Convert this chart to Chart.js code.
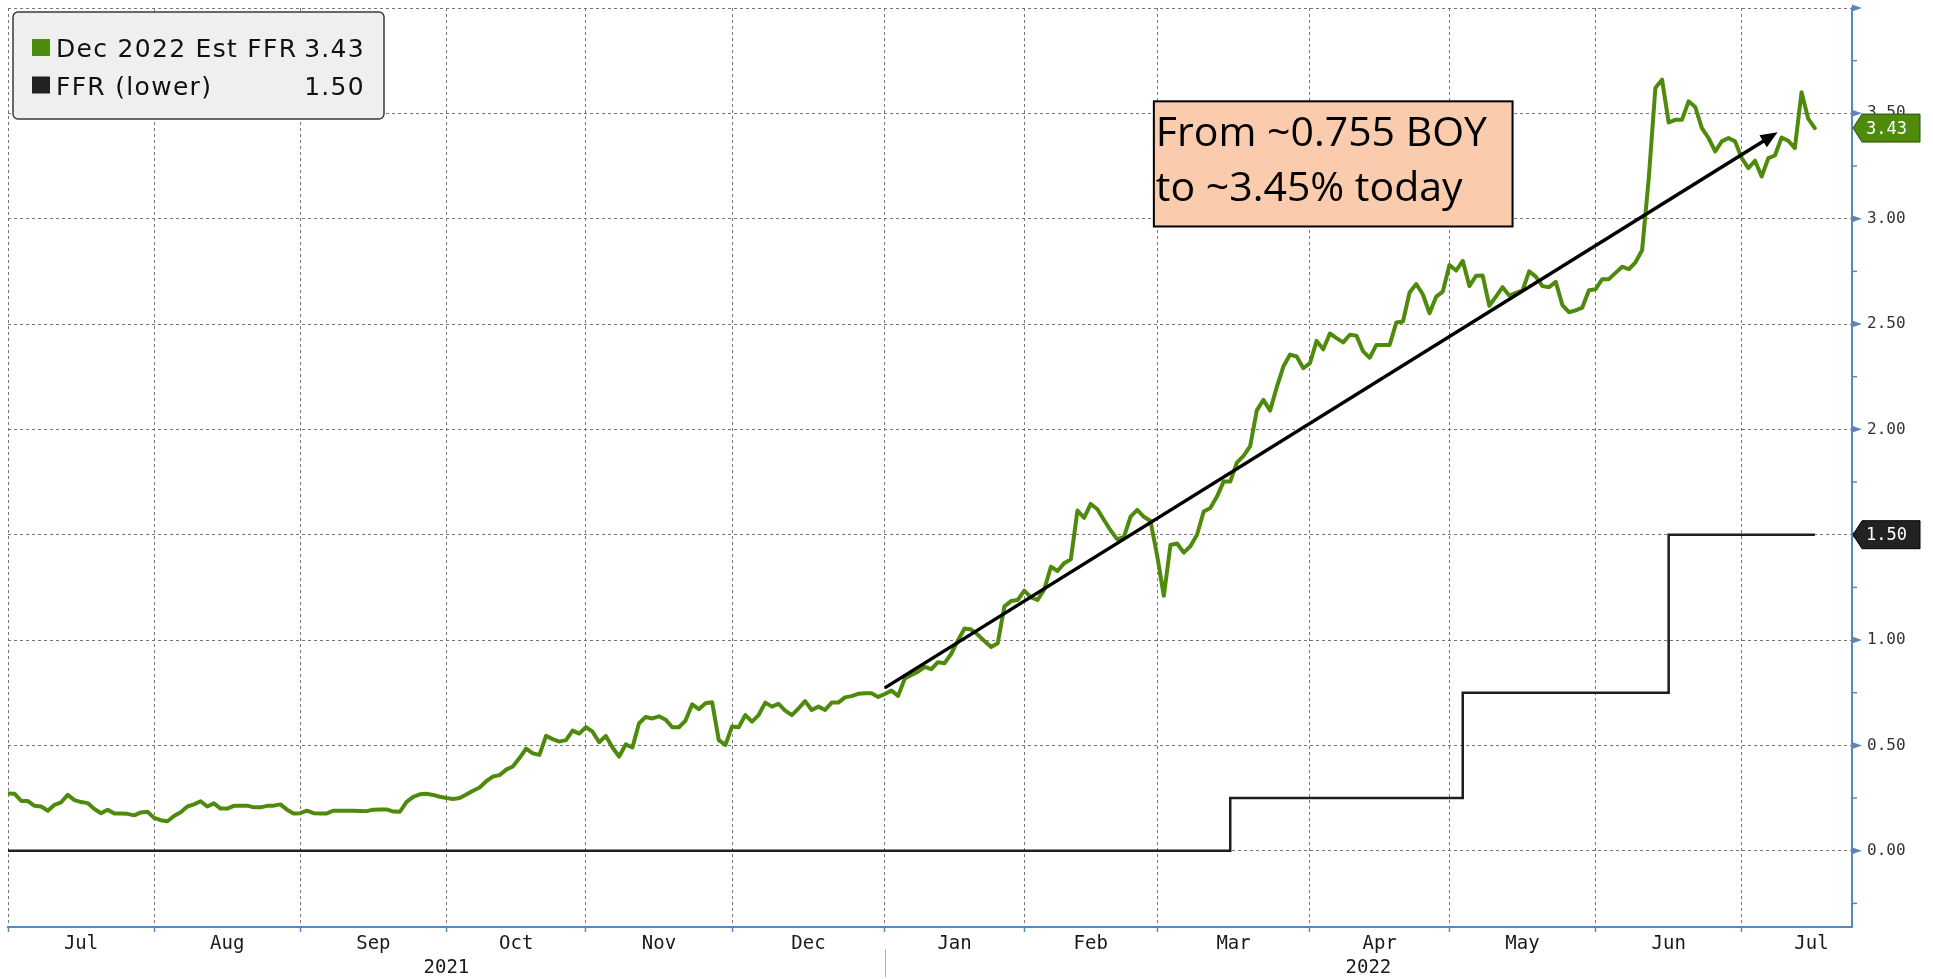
<!DOCTYPE html>
<html lang="en">
<head>
<meta charset="UTF-8">
<title>Dec 2022 Est FFR vs FFR</title>
<script src="https://cdn.jsdelivr.net/npm/chart.js"></script>
<style>
  html, body { margin: 0; padding: 0; background: #fff; }
  #wrap { position: relative; width: 1933px; height: 979px; }
</style>
</head>
<body>
<div id="wrap"><canvas id="chart"></canvas></div>
<script>
// x = trading-day index, 0 = Thu 1 Jul 2021 (weekdays only)
const estFFR = [
  // Jul 2021
  0.272, 0.270, 0.236, 0.236, 0.213, 0.210, 0.190, 0.218, 0.230, 0.265, 0.240, 0.231, 0.226, 0.198, 0.178, 0.195, 0.177, 0.177, 0.175, 0.168, 0.182, 0.185,
  // Aug
  0.156, 0.145, 0.140, 0.165, 0.183, 0.210, 0.220, 0.235, 0.210, 0.225, 0.200, 0.200, 0.213, 0.214, 0.214, 0.206, 0.206, 0.213, 0.214, 0.220, 0.195, 0.177,
  // Sep
  0.178, 0.190, 0.178, 0.177, 0.177, 0.190, 0.190, 0.190, 0.190, 0.189, 0.188, 0.195, 0.196, 0.196, 0.186, 0.185, 0.232, 0.256, 0.268, 0.270, 0.265, 0.256,
  // Oct
  0.250, 0.246, 0.250, 0.267, 0.285, 0.300, 0.330, 0.352, 0.359, 0.385, 0.400, 0.440, 0.485, 0.462, 0.455, 0.545, 0.530, 0.518, 0.525, 0.570, 0.556,
  // Nov
  0.587, 0.565, 0.515, 0.545, 0.490, 0.447, 0.505, 0.490, 0.605, 0.635, 0.628, 0.638, 0.622, 0.586, 0.586, 0.618, 0.695, 0.672, 0.700, 0.705, 0.525, 0.502,
  // Dec
  0.590, 0.586, 0.644, 0.613, 0.644, 0.703, 0.684, 0.697, 0.665, 0.644, 0.675, 0.710, 0.668, 0.684, 0.668, 0.703, 0.703, 0.728, 0.734, 0.745, 0.747, 0.747, 0.730,
  // Jan 2022
  0.744, 0.760, 0.735, 0.817, 0.834, 0.850, 0.873, 0.862, 0.895, 0.890, 0.935, 0.998, 1.055, 1.050, 1.025, 0.995, 0.967, 0.985, 1.160, 1.185, 1.190,
  // Feb
  1.235, 1.203, 1.190, 1.240, 1.348, 1.328, 1.365, 1.383, 1.615, 1.580, 1.646, 1.621, 1.570, 1.520, 1.478, 1.490, 1.586, 1.618, 1.585, 1.565,
  // Mar
  1.400, 1.210, 1.451, 1.458, 1.415, 1.445, 1.500, 1.610, 1.627, 1.681, 1.752, 1.752, 1.842, 1.874, 1.920, 2.090, 2.140, 2.089, 2.200, 2.298, 2.355, 2.346, 2.290,
  // Apr
  2.314, 2.420, 2.380, 2.455, 2.433, 2.413, 2.449, 2.445, 2.370, 2.340, 2.401, 2.401, 2.401, 2.507, 2.512, 2.650, 2.690, 2.640, 2.551, 2.630, 2.654,
  // May
  2.780, 2.754, 2.800, 2.680, 2.729, 2.730, 2.587, 2.630, 2.675, 2.635, 2.648, 2.660, 2.750, 2.725, 2.680, 2.675, 2.700, 2.590, 2.556, 2.565, 2.578, 2.660,
  // Jun
  2.665, 2.713, 2.713, 2.743, 2.772, 2.760, 2.793, 2.850, 3.190, 3.620, 3.660, 3.457, 3.469, 3.469, 3.557, 3.530, 3.430, 3.383, 3.319, 3.367, 3.383, 3.367,
  // Jul
  3.287, 3.240, 3.275, 3.200, 3.287, 3.300, 3.385, 3.370, 3.335, 3.600, 3.475, 3.430
];

// fed funds lower bound: day index where each level starts
const ffrDay = [0, 184, 219, 250, 272];
const ffrLevel = [0.00, 0.25, 0.75, 1.50, 1.50];

const monthStart = [0, 22, 44, 66, 87, 109, 132, 153, 173, 196, 217, 239, 261, 282];
const monthNames = ['Jul', 'Aug', 'Sep', 'Oct', 'Nov', 'Dec', 'Jan', 'Feb', 'Mar', 'Apr', 'May', 'Jun', 'Jul'];
const yearNames = ['2021', '2022'];
const yearStart = [0, 132];
const yTicks = [0, 0.5, 1, 1.5, 2, 2.5, 3, 3.5, 4];

const seriesNames = ['Dec 2022 Est FFR', 'FFR (lower)'];
const noteLines = ['From ~0.755 BOY', 'to ~3.45% today'];
const arrowFrom = [132, 0.773];
const arrowTo = [266.4, 3.41];
const noteBox = { x0: 172.5, x1: 226.5, y0: 2.963, y1: 3.557 };

const X_MAX = 277.6;
const GREEN = '#4e8b0c';
const BLACK = '#1e1e1e';
const AXIS = '#5a88bd';
const GRID = '#777';

const overlay = {
  id: 'overlay',
  afterDatasetsDraw(chart) {
    const { ctx, scales: { x, y } } = chart;
    // trend arrow
    const x1 = x.getPixelForValue(arrowFrom[0]), y1 = y.getPixelForValue(arrowFrom[1]);
    const x2 = x.getPixelForValue(arrowTo[0]), y2 = y.getPixelForValue(arrowTo[1]);
    const a = Math.atan2(y2 - y1, x2 - x1);
    const head = 17, half = 7;
    ctx.save();
    ctx.strokeStyle = '#000';
    ctx.fillStyle = '#000';
    ctx.lineWidth = 3.5;
    ctx.beginPath();
    ctx.moveTo(x1, y1);
    ctx.lineTo(x2 - head * 0.8 * Math.cos(a), y2 - head * 0.8 * Math.sin(a));
    ctx.stroke();
    ctx.beginPath();
    ctx.moveTo(x2, y2);
    ctx.lineTo(x2 - head * Math.cos(a) + half * Math.sin(a), y2 - head * Math.sin(a) - half * Math.cos(a));
    ctx.lineTo(x2 - head * Math.cos(a) - half * Math.sin(a), y2 - head * Math.sin(a) + half * Math.cos(a));
    ctx.closePath();
    ctx.fill();

    // note box
    const bx = x.getPixelForValue(noteBox.x0), bx2 = x.getPixelForValue(noteBox.x1);
    const by = y.getPixelForValue(noteBox.y1), by2 = y.getPixelForValue(noteBox.y0);
    ctx.fillStyle = '#fbcbae';
    ctx.fillRect(bx, by, bx2 - bx, by2 - by);
    ctx.lineWidth = 2;
    ctx.strokeRect(bx, by, bx2 - bx, by2 - by);
    ctx.fillStyle = '#000';
    ctx.font = '41px "Open Sans"';
    ctx.textBaseline = 'alphabetic';
    ctx.textAlign = 'left';
    ctx.fillText(noteLines[0], bx + 2, by + 45);
    ctx.fillText(noteLines[1], bx + 2, by + 100);
    ctx.restore();
  },
  afterDraw(chart) {
    const { ctx, chartArea: area, scales: { x, y } } = chart;
    ctx.save();

    // y axis tick marks
    ctx.fillStyle = AXIS;
    ctx.strokeStyle = AXIS;
    ctx.lineWidth = 1.5;
    yTicks.forEach(v => {
      const p = y.getPixelForValue(v);
      ctx.beginPath();
      ctx.moveTo(area.right, p - 3.5);
      ctx.lineTo(area.right + 10, p);
      ctx.lineTo(area.right, p + 3.5);
      ctx.closePath();
      ctx.fill();
      const m = y.getPixelForValue(v - 0.25);
      if (m < area.bottom) {
        ctx.beginPath();
        ctx.moveTo(area.right, m);
        ctx.lineTo(area.right + 5, m);
        ctx.stroke();
      }
    });

    // month and year labels
    ctx.fillStyle = '#1a1a1a';
    ctx.font = '19px "DejaVu Sans Mono"';
    ctx.textAlign = 'center';
    ctx.textBaseline = 'alphabetic';
    monthNames.forEach((m, i) => {
      const c = x.getPixelForValue((monthStart[i] + monthStart[i + 1]) / 2);
      ctx.fillText(m, c, area.bottom + 22);
    });
    yearNames.forEach((yr, i) => {
      const end = i + 1 < yearStart.length ? yearStart[i + 1] : X_MAX;
      ctx.fillText(yr, x.getPixelForValue((yearStart[i] + end) / 2), area.bottom + 46);
    });
    ctx.strokeStyle = '#a9b6c6';
    ctx.lineWidth = 1;
    ctx.beginPath();
    const sep = Math.round(x.getPixelForValue(yearStart[1])) + 0.5;
    ctx.moveTo(sep, area.bottom + 22);
    ctx.lineTo(sep, area.bottom + 50);
    ctx.stroke();

    // last value tags
    const tag = (val, fill, edge) => {
      const p = y.getPixelForValue(val);
      const l = area.right + 1, r = 1920, h = 14;
      ctx.beginPath();
      ctx.moveTo(l, p);
      ctx.lineTo(l + 9, p - h);
      ctx.lineTo(r, p - h);
      ctx.lineTo(r, p + h);
      ctx.lineTo(l + 9, p + h);
      ctx.closePath();
      ctx.fillStyle = fill;
      ctx.fill();
      ctx.strokeStyle = edge;
      ctx.lineWidth = 1;
      ctx.stroke();
      ctx.fillStyle = '#fff';
      ctx.font = '17px "DejaVu Sans Mono"';
      ctx.textAlign = 'left';
      ctx.textBaseline = 'middle';
      ctx.fillText(val.toFixed(2), l + 13, p + 1);
    };
    tag(estFFR[estFFR.length - 1], GREEN, '#2f4f12');
    tag(ffrLevel[ffrLevel.length - 1], '#222', '#000');

    // legend
    ctx.beginPath();
    ctx.roundRect(13, 12, 371, 107, 5);
    ctx.fillStyle = '#efefef';
    ctx.fill();
    ctx.strokeStyle = '#3a3a3a';
    ctx.lineWidth = 1.5;
    ctx.stroke();
    const values = [estFFR[estFFR.length - 1], ffrLevel[ffrLevel.length - 1]];
    const colors = [GREEN, '#222'];
    ctx.font = '25px "DejaVu Sans"';
    ctx.textBaseline = 'alphabetic';
    ctx.letterSpacing = '1.3px';
    seriesNames.forEach((name, i) => {
      const base = 57 + i * 37.5;
      ctx.fillStyle = colors[i];
      ctx.fillRect(32, base - 18, 18, 17);
      ctx.fillStyle = '#111';
      ctx.textAlign = 'left';
      ctx.fillText(name, 56, base);
      ctx.textAlign = 'right';
      ctx.fillText(values[i].toFixed(2), 365, base);
    });
    ctx.restore();
  }
};

new Chart(document.getElementById('chart'), {
  type: 'line',
  data: {
    datasets: [
      {
        label: seriesNames[0],
        data: estFFR.map((v, i) => ({ x: i, y: v })),
        borderColor: GREEN,
        borderWidth: 4,
        pointRadius: 0,
        tension: 0,
        borderJoinStyle: 'round',
        borderCapStyle: 'round'
      },
      {
        label: seriesNames[1],
        data: ffrDay.map((d, i) => ({ x: d, y: ffrLevel[i] })),
        borderColor: BLACK,
        borderWidth: 2.5,
        pointRadius: 0,
        stepped: true
      }
    ]
  },
  options: {
    responsive: true,
    maintainAspectRatio: false,
    animation: false,
    layout: { padding: { left: 8, top: 8, right: 0, bottom: 0 } },
    plugins: { legend: { display: false }, tooltip: { enabled: false } },
    scales: {
      x: {
        type: 'linear',
        min: 0,
        max: X_MAX,
        afterBuildTicks: s => { s.ticks = monthStart.filter(v => v <= X_MAX).map(v => ({ value: v })); },
        ticks: { display: false },
        grid: { color: GRID, lineWidth: 1, drawTicks: true, tickLength: 5, tickColor: AXIS, tickWidth: 1.5 },
        border: { color: AXIS, width: 2, dash: [3, 3] },
        afterFit: s => { s.height = 52; s.paddingLeft = 0; s.paddingRight = 0; }
      },
      y: {
        position: 'right',
        min: -0.362,
        max: 4,
        afterBuildTicks: s => { s.ticks = yTicks.map(v => ({ value: v })); },
        ticks: {
          padding: 15,
          color: '#333',
          font: { family: 'DejaVu Sans Mono', size: 16 },
          callback: v => (v >= 4 ? '' : v.toFixed(2))
        },
        grid: { color: GRID, lineWidth: 1, drawTicks: false },
        border: { color: AXIS, width: 2, dash: [3, 3] },
        afterFit: s => { s.width = 81; s.paddingTop = 0; s.paddingBottom = 0; }
      }
    }
  },
  plugins: [overlay]
});
</script>
</body>
</html>
